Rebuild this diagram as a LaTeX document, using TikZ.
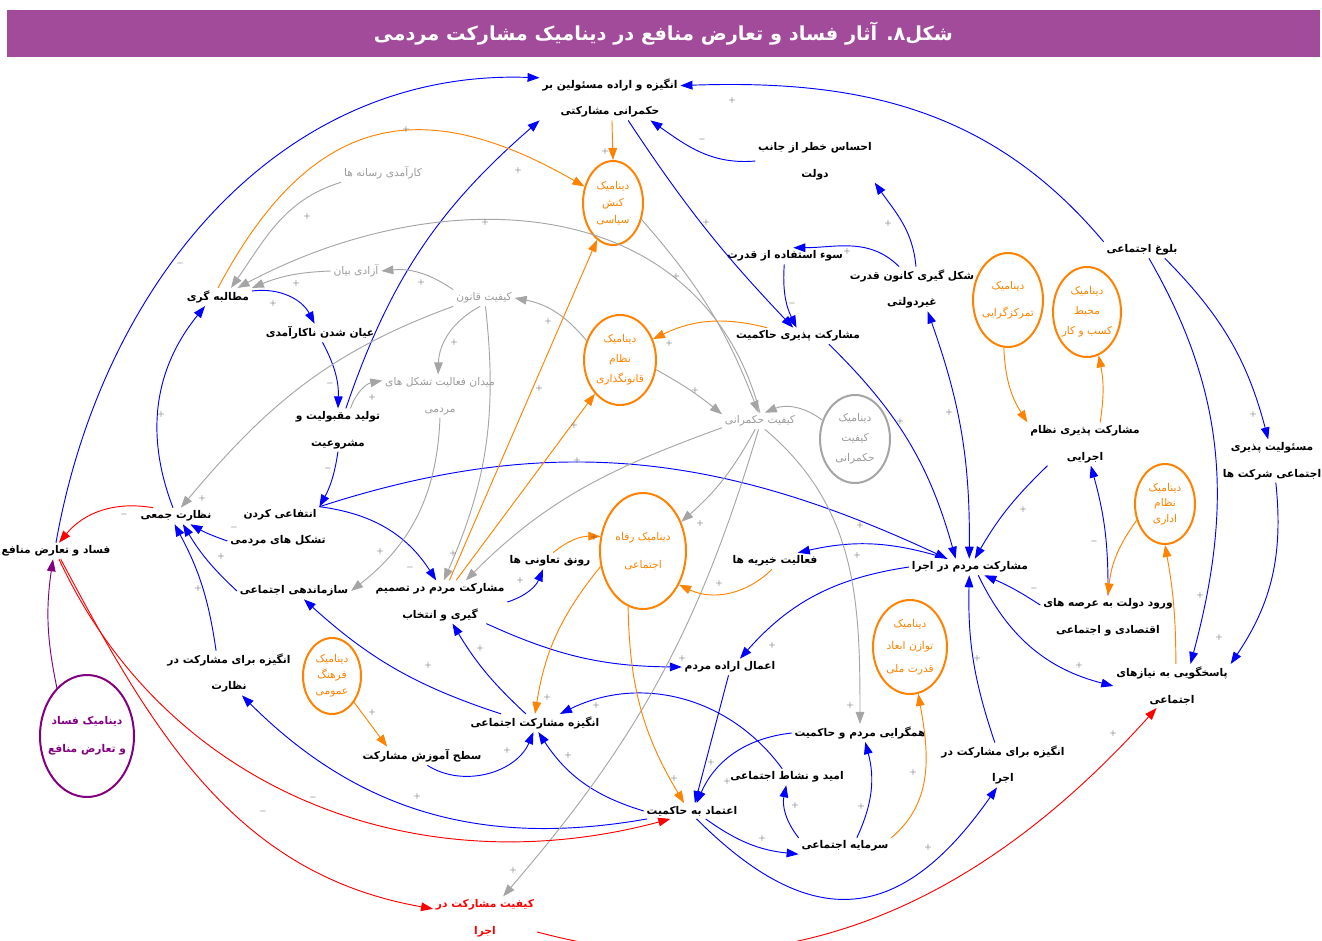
\documentclass[tikz,border=0pt]{standalone}
\usepackage{fontspec}
\usetikzlibrary{arrows.meta,shapes.geometric}
\TeXXeTstate=1
\newfontfamily\arabicfont[Script=Arabic]{DejaVu Sans}
\newcommand{\fa}[1]{{\arabicfont\beginR #1\endR}}
\newcommand{\lc}[1]{\makebox[0pt]{\fa{#1}}}
\definecolor{cblue}{RGB}{0,0,255}
\definecolor{corange}{RGB}{255,130,0}
\definecolor{cgray}{RGB}{165,165,165}
\definecolor{cgraytext}{RGB}{155,155,155}
\definecolor{cpurple}{RGB}{128,0,128}
\definecolor{cband}{RGB}{162,75,155}

\begin{document}
\begin{tikzpicture}[x=0.75pt, y=-0.75pt,
    var/.style={font=\fontsize{8}{20}\selectfont\bfseries, text=black, align=center, inner sep=2pt},
    gvar/.style={font=\fontsize{8}{20}\selectfont, text=cgraytext, align=center, inner sep=2pt},
    rvar/.style={var, text=red},
    loopc/.style={ellipse, draw=corange, line width=1.5pt, text=corange, inner sep=0pt, align=center},
    sgn/.style={font=\fontsize{6}{6}\selectfont, text=black!70, inner sep=0pt},
    tip/.style={-{Triangle[length=9pt,width=6.5pt]}},
    bl/.style={tip, draw=cblue, line width=0.7pt},
    gl/.style={tip, draw=cgray, line width=0.7pt},
    ol/.style={tip, draw=corange, line width=0.7pt},
    rl/.style={tip, draw=red, line width=0.7pt},
    ppl/.style={tip, draw=cpurple, line width=0.7pt}]
\useasboundingbox (0,0) rectangle (1322,940);

    % Title
    \node[fill=cband, minimum width=984.75pt, minimum height=35.25pt, inner sep=0pt, text=white,
          font=\fontsize{14.5}{14.5}\selectfont\bfseries] (title) at (663.5,33.5)
          {\fa{شکل۸. آثار فساد و تعارض منافع در دینامیک مشارکت مردمی}};

    % Variables
    \node[var] (ang) at (610,98) {\fa{انگیزه و اراده مسئولین بر}\\\fa{حکمرانی مشارکتی}};
    \node[var] (khtr) at (815,161) {\fa{احساس خطر از جانب}\\\fa{دولت}};
    \node[var] (soo) at (785,256) {\fa{سوء استفاده از قدرت}};
    \node[var] (kanun) at (912,289) {\fa{شکل گیری کانون قدرت}\\\fa{غیردولتی}};
    \node[var] (mphk) at (798,336) {\fa{مشارکت پذیری حاکمیت}};
    \node[var] (bolugh) at (1142,250) {\fa{بلوغ اجتماعی}};
    \node[var] (mpne) at (1085,444) {\fa{مشارکت پذیری نظام}\\\fa{اجرایی}};
    \node[var] (masul) at (1272,461) {\fa{مسئولیت پذیری}\\\fa{اجتماعی شرکت ها}};
    \node[var] (ejra) at (970,567) {\fa{مشارکت مردم در اجرا}};
    \node[var] (kheir) at (775,561) {\fa{فعالیت خیریه ها}};
    \node[var] (vorud) at (1108,617) {\fa{ورود دولت به عرصه های}\\\fa{اقتصادی و اجتماعی}};
    \node[var] (pasokh) at (1172,686) {\fa{پاسخگویی به نیازهای}\\\fa{اجتماعی}};
    \node[var] (eemal) at (730,667) {\fa{اعمال اراده مردم}};
    \node[var] (hamgar) at (860,733) {\fa{همگرایی مردم و حاکمیت}};
    \node[var] (omid) at (787,777) {\fa{امید و نشاط اجتماعی}};
    \node[var] (angej) at (1003,765) {\fa{انگیزه برای مشارکت در}\\\fa{اجرا}};
    \node[var] (etemad) at (692,811) {\fa{اعتماد به حاکمیت}};
    \node[var] (sarmaye) at (845,846) {\fa{سرمایه اجتماعی}};
    \node[var] (angmosh) at (535,723) {\fa{انگیزه مشارکت اجتماعی}};
    \node[var] (amuz) at (422,756) {\fa{سطح آموزش مشارکت}};
    \node[var] (tasmim) at (440,602) {\fa{مشارکت مردم در تصمیم}\\\fa{گیری و انتخاب}};
    \node[var] (taavon) at (550,561) {\fa{رونق تعاونی ها}};
    \node[var] (sazman) at (294,591) {\fa{سازماندهی اجتماعی}};
    \node[var] (tashakol) at (278,541) {\fa{تشکل های مردمی}};
    \node[var] (entefa) at (280,515) {\fa{انتفاعی کردن}};
    \node[var] (nezarat) at (176,516) {\fa{نظارت جمعی}};
    \node[var] (fesad) at (56,551) {\fa{فساد و تعارض منافع}};
    \node[var] (angnez) at (229,673) {\fa{انگیزه برای مشارکت در}\\\fa{نظارت}};
    \node[var] (tolid) at (338,430) {\fa{تولید مقبولیت و}\\\fa{مشروعیت}};
    \node[var] (ayan) at (320,333) {\fa{عیان شدن ناکارآمدی}};
    \node[var] (motal) at (218,297) {\fa{مطالبه گری}};
    \node[gvar] (resane) at (383,173) {\fa{کارآمدی رسانه ها}};
    \node[gvar] (azadi) at (356,271) {\fa{آزادی بیان}};
    \node[gvar] (ghanun) at (484,298) {\fa{کیفیت قانون}};
    \node[gvar] (meydan) at (440,396) {\fa{میدان فعالیت تشکل های}\\\fa{مردمی}};
    \node[gvar] (kefhok) at (760,421) {\fa{کیفیت حکمرانی}};
    \node[rvar] (kefej) at (485,918) {\fa{کیفیت مشارکت در}\\\fa{اجرا}};

    % Loops
    \node[loopc, minimum width=45pt, minimum height=63pt, font=\fontsize{8}{12.75}\selectfont] (dkonesh) at (613,203) {\lc{دینامیک}\\\lc{کنش}\\\lc{سیاسی}};
    \node[loopc, minimum width=54pt, minimum height=67.5pt, font=\fontsize{8}{15}\selectfont] (dghanun) at (620,360) {\lc{دینامیک}\\\lc{نظام}\\\lc{قانونگذاری}};
    \node[loopc, draw=cgray, text=cgraytext, minimum width=52.5pt, minimum height=66pt, font=\fontsize{8}{15}\selectfont] (dkefiat) at (855,439) {\lc{دینامیک}\\\lc{کیفیت}\\\lc{حکمرانی}};
    \node[loopc, minimum width=64.5pt, minimum height=87pt, font=\fontsize{8}{21}\selectfont] (drefah) at (643,551) {\lc{دینامیک رفاه}\\\lc{اجتماعی}};
    \node[loopc, minimum width=52.5pt, minimum height=70.5pt, font=\fontsize{8}{20}\selectfont] (dtamar) at (1008,300) {\lc{دینامیک}\\\lc{تمرکزگرایی}};
    \node[loopc, minimum width=51pt, minimum height=67.5pt, font=\fontsize{8}{15}\selectfont] (dkasb) at (1087,312) {\lc{دینامیک}\\\lc{محیط}\\\lc{کسب و کار}};
    \node[loopc, minimum width=45pt, minimum height=60pt, font=\fontsize{8}{11.6}\selectfont] (dedari) at (1165,504) {\lc{دینامیک}\\\lc{نظام}\\\lc{اداری}};
    \node[loopc, minimum width=55.5pt, minimum height=70.5pt, font=\fontsize{8}{17}\selectfont] (dtavazon) at (910,647) {\lc{دینامیک}\\\lc{توازن ابعاد}\\\lc{قدرت ملی}};
    \node[loopc, minimum width=43.5pt, minimum height=57pt, font=\fontsize{8}{12}\selectfont] (dfarhang) at (332,676) {\lc{دینامیک}\\\lc{فرهنگ}\\\lc{عمومی}};
    \node[loopc, draw=cpurple, text=cpurple, minimum width=70.5pt, minimum height=91.5pt, font=\fontsize{8}{21}\selectfont\bfseries] (dfesad) at (87,736) {\lc{دینامیک فساد}\\\lc{و تعارض منافع}};

    % Blue links
    \draw[bl] (fesad.north) to[out=80,in=178] (ang.164);
    \draw[bl] (bolugh.north west) to[out=130,in=2] (ang.10);
    \draw[bl] (khtr.west) to[out=185,in=-35] (ang.-29);
    \draw[bl] (ang.-51) to[bend right=5] (mphk.120);
    \draw[bl] (soo.-95) to[bend right=15] (mphk.100);
    \draw[bl] (kanun.120) to[out=135,in=0] (soo.45);
    \draw[bl] (kanun.80) to[out=95,in=-55] (khtr.south east);
    \draw[bl, {Triangle[length=9pt,width=6.5pt]}-{Triangle[length=9pt,width=6.5pt]}] (kanun.-55) to[bend left=10] (ejra.95);
    \draw[bl] (mphk.-15) to[bend left=15] (ejra.150);
    \draw[bl] (entefa.north east) to[out=18,in=155] (ejra.160);
    \draw[bl] (tolid.south) to[bend left=10] (entefa.north east);
    \draw[bl] (entefa.north east) to[bend left=25] (tasmim.100);
    \draw[bl] (ayan.-75) to[bend left=15] (tolid.north);
    \draw[bl] (tolid.70) to[bend left=15] (ang.south west);
    \draw[bl] (bolugh.-50) to[out=-60,in=75] (pasokh.50);
    \draw[bl] (bolugh.-20) to[bend left=15] (masul.100);
    \draw[bl] (masul.-80) to[bend left=20] (pasokh.north east);
    \draw[bl] (vorud.north) to[bend right=8] (mpne.-75);
    \draw[bl] (vorud.170) to[bend right=5] (ejra.-30);
    \draw[bl] (mpne.-150) to[bend right=8] (ejra.60);
    \draw[bl] (ejra.-45) to[bend right=25] (pasokh.west);
    \draw[bl] (ejra.160) to[bend right=15] (kheir.20);
    \draw[bl] (ejra.west) to[bend right=20] (eemal.40);
    \draw[bl] (angej.110) to[bend left=10] (ejra.-95);
    \draw[bl] (tasmim.east) to[bend right=25] (taavon.-130);
    \draw[bl] (tasmim.-25) to[bend right=12] (eemal.west);
    \draw[bl] (angmosh.135) to[bend left=8] (tasmim.-60);
    \draw[bl] (angmosh.165) to[bend left=12] (sazman.-40);
    \draw[bl] (amuz.-60) to[bend right=50] (angmosh.-100);
    \draw[bl] (etemad.west) to[bend left=20] (angmosh.-70);
    \draw[bl] (omid.120) to[bend right=40] (angmosh.20);
    \draw[bl] (eemal.-100) -- (etemad.70);
    \draw[bl] (hamgar.west) to[bend right=30] (etemad.60);
    \draw[bl] (sarmaye.170) to[bend left=25] (omid.-95);
    \draw[bl] (sarmaye.35) to[bend right=20] (hamgar.-60);
    \draw[bl] (etemad.-30) to[bend right=15] (sarmaye.-170);
    \draw[bl] (etemad.-60) to[out=-45,in=-125,looseness=1.4] (angej.-105);
    \draw[bl] (etemad.190) to[out=190,in=-45] (angnez.-60);
    \draw[bl] (angnez.120) to[bend right=10] (nezarat.-100);
    \draw[bl] (sazman.west) to[bend left=8] (nezarat.-50);
    \draw[bl] (tashakol.west) to[bend left=5] (nezarat.-30);
    \draw[bl] (nezarat.110) to[bend left=30] (motal.-145);
    \draw[bl] (motal.10) to[bend left=35] (ayan.120);

    % Gray links
    \draw[gl] (tolid.60) to[bend left=30] (meydan.165);
    \draw[gl] (resane.south west) to[out=197,in=55] (motal.35);
    \draw[gl] (kefhok.north) to[out=105,in=28,looseness=1.1] (motal.25);
    \draw[gl] (azadi.west) to[bend right=10] (motal.15);
    \draw[gl] (ghanun.north west) to[bend right=20] (azadi.east);
    \draw[gl] (ghanun.south west) to[out=200,in=50] (nezarat.60);
    \draw[gl] (ghanun.-115) to[bend right=30] (meydan.95);
    \draw[gl] (ghanun.-80) to[bend left=15] (tasmim.80);
    \draw[gl] (dghanun.150) to[bend right=20] (ghanun.east);
    \draw[gl] (meydan.south) to[bend left=25] (sazman.east);
    \draw[gl] (dkonesh.-30) to[bend left=10] (kefhok.100);
    \draw[gl] (dghanun.-15) to[bend left=5] (kefhok.170);
    \draw[gl] (dkefiat.150) to[bend right=30] (kefhok.60);
    \draw[gl] (kefhok.-120) to[bend left=10] (drefah);
    \draw[gl] (kefhok.190) to[out=200,in=45] (tasmim.40);
    \draw[gl] (kefhok.-100) to[bend left=12] (kefej.50);
    \draw[gl] (kefhok.-60) to[out=-40,in=90] (hamgar.north);

    % Orange links
    \draw[ol] (motal.north) to[out=62,in=150,looseness=1.3] (dkonesh);
    \draw[ol] (ang.-85) -- (dkonesh.north);
    \draw[ol] (mphk.165) to[bend right=20] (dghanun);
    \draw[ol] (tasmim) -- (dkonesh);
    \draw[ol] (tasmim) -- (dghanun);
    \draw[ol] (taavon.70) to[bend left=20] (drefah);
    \draw[ol] (kheir.-110) to[bend left=35] (drefah);
    \draw[ol] (drefah.200) to[bend right=15] (angmosh.north);
    \draw[ol] (drefah.-105) to[bend right=15] (etemad.135);
    \draw[ol] (sarmaye.north east) to[out=40,in=-80] (dtavazon);
    \draw[ol] (dfarhang.-50) -- (amuz.165);
    \draw[ol] (dtamar.-95) to[bend right=15] (mpne.north west);
    \draw[ol] (mpne.55) to[bend right=10] (dkasb.-75);
    \draw[ol] (pasokh.80) to[bend right=5] (dedari.south);
    \draw[ol] (dedari.210) to[bend right=15] (vorud.north);

    % Red and purple links
    \draw[rl] (nezarat.160) to[bend right=30] (fesad.70);
    \draw[rl] (fesad.-70) to[out=-65,in=195] (etemad.-160);
    \draw[rl] (fesad.-60) to[out=-62,in=170] (kefej.170);
    \draw[rl] (kefej.-15) to[out=-15,in=-132] (pasokh.-125);
    \draw[ppl] (dfesad.122) to[bend left=10] (fesad.-110);

    % Polarities
    \foreach \px/\py [count=\i] in {732/100, 706/222, 847/251, 888/223, 949/412, 900/421, 406/129, 605/151,
        518/170, 485/222, 307/216, 296/283, 273/303, 421/282, 454/342, 548/321, 676/276, 669/343, 372/397,
        161/414, 202/498, 221/556, 198/588, 453/553, 380/551, 539/388, 574/425, 577/460, 520/580, 594/537,
        695/390, 700/523, 719/583, 860/525, 857/555, 772/645, 682/658, 480/648, 428/665, 547/697, 596/705,
        507/750, 568/755, 674/778, 711/762, 727/781, 795/805, 861/806, 762/838, 850/705, 513/870, 913/772,
        928/847, 977/658, 1079/665, 1023/509, 1200/595, 1253/414, 1219/637, 1113/733, 372/712, 417/796}
        \node[sgn] (sp\i) at (\px,\py) {+};
    \foreach \px/\py [count=\i] in {180/263, 702/139, 792/303, 330/383, 328/468, 124/514, 234/527,
        410/567, 1034/588, 1094/541, 313/797, 263/811}
        \node[sgn] (sm\i) at (\px,\py) {$-$};

\end{tikzpicture}
\end{document}
